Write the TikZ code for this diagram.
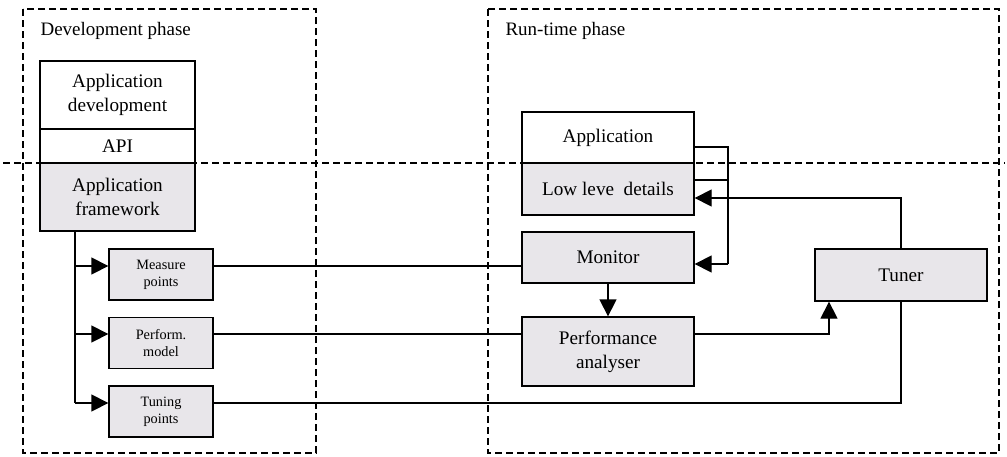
\documentclass[tikz,border=0pt]{standalone}
\usepackage{fontspec}
\setmainfont{Liberation Serif}
\usetikzlibrary{arrows.meta}
\definecolor{boxgray}{RGB}{232,230,234}
\begin{document}
\begin{tikzpicture}[x=1pt,y=-1pt,
  phase/.style={draw,line width=1.4pt,dash pattern=on 7pt off 4pt},
  bigbox/.style={draw,line width=1.3pt,align=center,inner sep=0pt,
    font=\fontsize{19.2}{24}\selectfont},
  smallbox/.style={draw,line width=1.3pt,fill=boxgray,align=center,inner sep=0pt,
    minimum width=104pt,minimum height=51pt,font=\fontsize{14.3}{17}\selectfont},
  conn/.style={line width=1.3pt},
  arr/.style={conn,-{Triangle[length=17pt,width=17pt]}},
  title/.style={anchor=west,font=\fontsize{19}{22}\selectfont}]
\useasboundingbox (0,0) rectangle (1007,456);
% phase frames
\draw[phase] (23,9) rectangle (316,453);
\draw[phase] (488,9) rectangle (999,453);
\node[title] (devt) at (37,31) {Development phase};
\node[title] (runt) at (502,31) {Run-time phase};
% left stack
\node[bigbox,minimum width=155pt,minimum height=68pt] (appdev) at (117.5,95) {Application\\development};
\node[bigbox,minimum width=155pt,minimum height=34pt] (api) at (117.5,146) {API};
\node[bigbox,fill=boxgray,minimum width=155pt,minimum height=68pt] (appfw) at (117.5,197) {Application\\framework};
% small boxes
\node[smallbox] (measure) at (161,274.5) {Measure\\points};
\node[smallbox] (pmodel) at (161,343) {Perform.\\model};
\node[smallbox] (tpoints) at (161,411.5) {Tuning\\points};
% right side
\node[bigbox,minimum width=172pt,minimum height=51pt] (app) at (608,137.5) {Application};
\node[bigbox,fill=boxgray,minimum width=172pt,minimum height=52pt] (low) at (608,189) {Low leve\ \ details};
\node[bigbox,fill=boxgray,minimum width=172pt,minimum height=51pt] (monitor) at (608,257.5) {Monitor};
\node[bigbox,fill=boxgray,minimum width=172pt,minimum height=69pt] (perfan) at (608,351.5) {Performance\\analyser};
\node[bigbox,fill=boxgray,minimum width=172pt,minimum height=52pt] (tuner) at (901,275) {Tuner};
% level coordinates
\coordinate (trunk) at (75,0);
\coordinate (r1) at (0,266);
\coordinate (r2) at (0,334);
\coordinate (r3) at (0,403);
\coordinate (ra) at (0,147);
\coordinate (rl) at (0,180);
\coordinate (rt) at (0,198);
\coordinate (rm) at (0,264);
\coordinate (bus) at (728,0);
\coordinate (pup) at (829,0);
% left trunk
\draw[conn] (appfw.south -| trunk) -- (trunk |- r3);
\draw[arr] (trunk |- r1) -- (measure.west |- r1);
\draw[arr] (trunk |- r2) -- (pmodel.west |- r2);
\draw[arr] (trunk |- r3) -- (tpoints.west |- r3);
% cross connectors
\draw[conn] (measure.east |- r1) -- (monitor.west |- r1);
\draw[conn] (pmodel.east |- r2) -- (perfan.west |- r2);
\draw[conn] (tpoints.east |- r3) -- (tuner.south |- r3) -- (tuner.south);
% right connectors
\draw[conn] (app.east |- ra) -- (bus |- ra) -- (bus |- rm);
\draw[conn] (low.east |- rl) -- (bus |- rl);
\draw[arr] (bus |- rm) -- (monitor.east |- rm);
\draw[arr] (tuner.north) -- (tuner.north |- rt) -- (low.east |- rt);
\draw[arr] (monitor.south) -- (perfan.north);
\draw[arr] (perfan.east |- r2) -- (pup |- r2) -- (pup |- tuner.south);
% separating line
\draw[phase] (3,163) -- (1005,163);
\end{tikzpicture}
\end{document}
